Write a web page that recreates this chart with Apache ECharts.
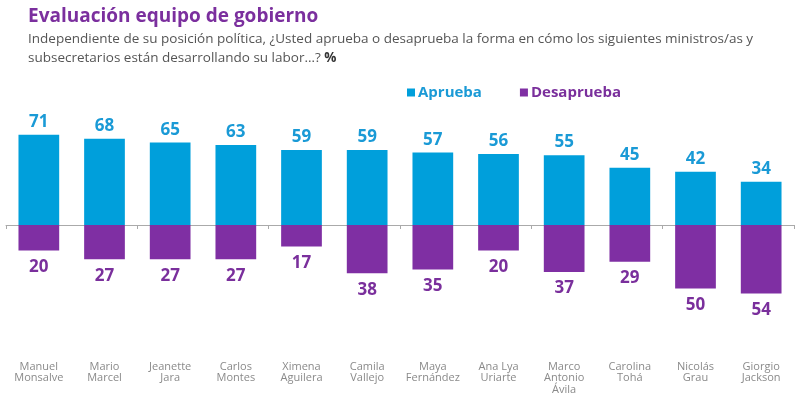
<!DOCTYPE html>
<html><head><meta charset="utf-8">
<script src="https://cdn.jsdelivr.net/npm/echarts@6/dist/echarts.min.js"></script>
<style>html,body{margin:0;padding:0;background:#fff}#c{width:800px;height:396px}</style>
</head><body><div id="c"></div>
<script>
const categories = ["Manuel\nMonsalve","Mario\nMarcel","Jeanette\nJara","Carlos\nMontes","Ximena\nAguilera","Camila\nVallejo","Maya\nFernández","Ana Lya\nUriarte","Marco\nAntonio\nÁvila","Carolina\nTohá","Nicolás\nGrau","Giorgio\nJackson"];
const aprueba = [71,68,65,63,59,59,57,56,55,45,42,34];
const desaprueba = [20,27,27,27,17,38,35,20,37,29,50,54];

const BLUE = '#009fdb', PURPLE = '#7f2fa3';
const chart = echarts.init(document.getElementById('c'));
chart.setOption({
  animation: false,
  title: {
    text: 'Evaluación equipo de gobierno',
    left: 23, top: 2,
    textStyle: {fontFamily: 'Open Sans', fontWeight: 'bold', fontSize: 19, color: '#7b2f9e'},
    subtext: '{s|Independiente de su posición política, ¿Usted aprueba o desaprueba la forma en cómo los siguientes ministros/as y}\n{s|subsecretarios están desarrollando su labor…? }{b|%}',
    subtextStyle: {
      rich: {
        s: {fontFamily: 'Open Sans', fontSize: 13.5, color: '#555', lineHeight: 19},
        b: {fontFamily: 'Open Sans', fontSize: 13.5, fontWeight: 'bold', color: '#333', lineHeight: 19}
      }
    },
    itemGap: 4
  },
  legend: {
    left: 402, top: 80,
    itemWidth: 8, itemHeight: 8, itemGap: 38,
    icon: 'rect',
    data: [
      {name: 'Aprueba', textStyle: {color: '#1a9ad6'}},
      {name: 'Desaprueba', textStyle: {color: '#7a2f9c'}}
    ],
    textStyle: {fontFamily: 'Open Sans', fontWeight: 'bold', fontSize: 15, padding: [0,0,0,-2]}
  },
  grid: {left: 6, right: 6, top: 123.4, height: 177.8, containLabel: false},
  xAxis: [{
    type: 'category', data: categories, position: 'bottom',
    axisLine: {onZero: true, lineStyle: {color: '#aaa'}},
    axisTick: {show: true, lineStyle: {color: '#aaa'}, length: 4},
    axisLabel: {show: false}
  },{
    type: 'category', data: categories, position: 'bottom', offset: 60,
    axisLine: {show: false}, axisTick: {show: false},
    axisLabel: {show: true, interval: 0, color: '#8a8a8a', fontFamily: 'Open Sans', fontSize: 11, lineHeight: 11.3, margin: 0, verticalAlign: 'top'}
  }],
  yAxis: {type: 'value', min: -60, max: 80, show: false, splitLine: {show: false}},
  series: [
    {
      name: 'Aprueba', type: 'bar', stack: 'a', barWidth: '62%',
      itemStyle: {color: BLUE},
      data: aprueba,
      label: {show: true, position: 'top', distance: 4, color: '#1a9ad6', fontFamily: 'Open Sans', fontWeight: 'bold', fontSize: 17}
    },
    {
      name: 'Desaprueba', type: 'bar', stack: 'a', barWidth: '62%',
      itemStyle: {color: PURPLE},
      data: desaprueba.map(v => -v),
      label: {show: true, position: 'bottom', distance: 8, color: '#7a2f9c', fontFamily: 'Open Sans', fontWeight: 'bold', fontSize: 17,
        formatter: p => Math.abs(p.value)}
    }
  ]
});
</script></body></html>
